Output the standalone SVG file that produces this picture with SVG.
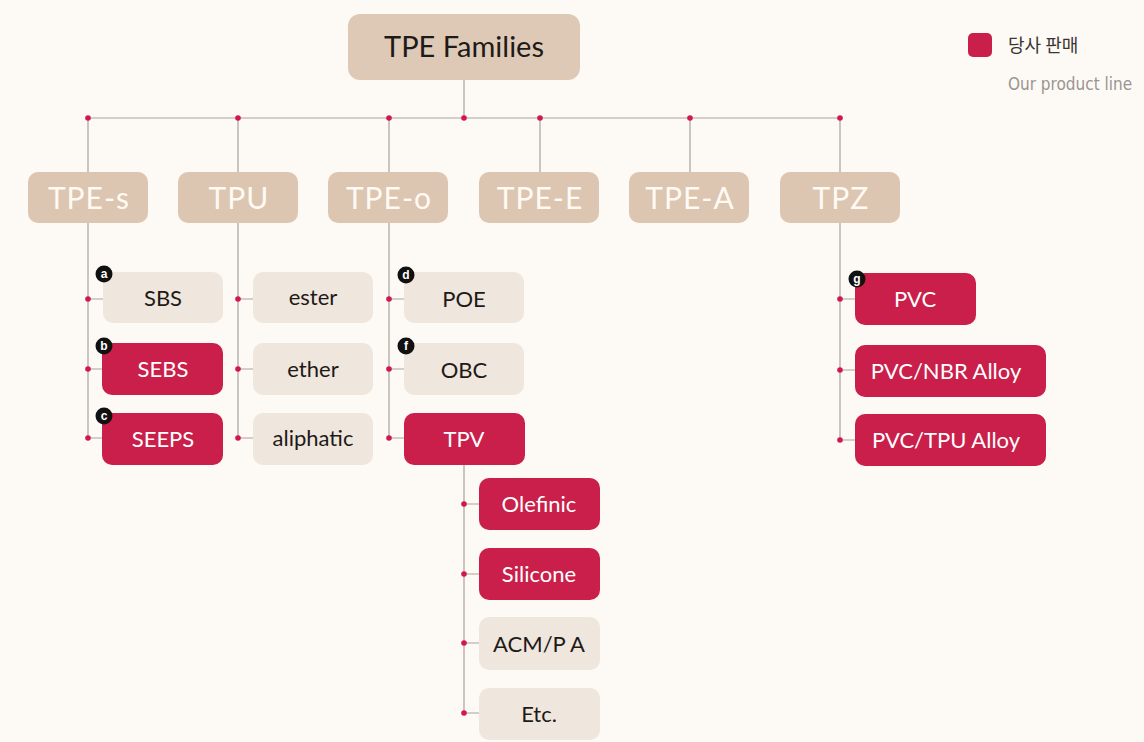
<svg xmlns="http://www.w3.org/2000/svg" width="1144" height="742" viewBox="0 0 1144 742">
<style>
.bg{fill:#fdfaf6}
.top{fill:#ddc9b6}
.l1{fill:#dcc6b1}
.beige{fill:#efe6dd}
.red{fill:#c91f4a}
.ln{stroke:#a9a19b;stroke-width:1.2;fill:none}
.dot{fill:#d3164b}
.t{font-family:Lato,"Open Sans","Liberation Sans",sans-serif;text-anchor:middle}
.tl1{font-size:30px;fill:#fffaf3;letter-spacing:1px}
.tc{font-size:22px}
.dk{fill:#1e1a18}
.wh{fill:#ffffff}
.badge{fill:#111}
.bt{font-family:"Liberation Sans",sans-serif;font-size:12px;font-weight:bold;fill:#fff;text-anchor:middle}
</style>
<rect class="bg" x="0" y="0" width="1144" height="742"/>
<g id="connectors">
<line class="ln" x1="464" y1="80" x2="464" y2="118"/>
<line class="ln" x1="88" y1="118" x2="840" y2="118"/>
<line class="ln" x1="88" y1="118" x2="88" y2="172"/>
<line class="ln" x1="238" y1="118" x2="238" y2="172"/>
<line class="ln" x1="389" y1="118" x2="389" y2="172"/>
<line class="ln" x1="540" y1="118" x2="540" y2="172"/>
<line class="ln" x1="690" y1="118" x2="690" y2="172"/>
<line class="ln" x1="840" y1="118" x2="840" y2="172"/>
<line class="ln" x1="88" y1="223" x2="88" y2="438"/>
<line class="ln" x1="238" y1="223" x2="238" y2="438"/>
<line class="ln" x1="389" y1="223" x2="389" y2="438"/>
<line class="ln" x1="840" y1="223" x2="840" y2="440"/>
<line class="ln" x1="464" y1="465" x2="464" y2="713"/>
<path class="ln" d="M88 299H103M88 369H103M88 438H103M238 299H253M238 369H253M238 438H253M389 299H404M389 369H404M389 438H404M840 299H855M840 370H855M840 440H855M464 504H479M464 574H479M464 643H479M464 713H479"/>
<g>
<circle class="dot" cx="88" cy="118" r="2.8"/><circle class="dot" cx="238" cy="118" r="2.8"/><circle class="dot" cx="389" cy="118" r="2.8"/><circle class="dot" cx="464" cy="118" r="2.8"/><circle class="dot" cx="540" cy="118" r="2.8"/><circle class="dot" cx="690" cy="118" r="2.8"/><circle class="dot" cx="840" cy="118" r="2.8"/>
<circle class="dot" cx="88" cy="299" r="2.8"/><circle class="dot" cx="88" cy="369" r="2.8"/><circle class="dot" cx="88" cy="438" r="2.8"/>
<circle class="dot" cx="238" cy="299" r="2.8"/><circle class="dot" cx="238" cy="369" r="2.8"/><circle class="dot" cx="238" cy="438" r="2.8"/>
<circle class="dot" cx="389" cy="299" r="2.8"/><circle class="dot" cx="389" cy="369" r="2.8"/><circle class="dot" cx="389" cy="438" r="2.8"/>
<circle class="dot" cx="840" cy="299" r="2.8"/><circle class="dot" cx="840" cy="370" r="2.8"/><circle class="dot" cx="840" cy="440" r="2.8"/>
<circle class="dot" cx="464" cy="504" r="2.8"/><circle class="dot" cx="464" cy="574" r="2.8"/><circle class="dot" cx="464" cy="643" r="2.8"/><circle class="dot" cx="464" cy="713" r="2.8"/>
</g>
</g>
<g id="root"><rect class="top" x="348" y="14" width="232" height="66" rx="12"/><text class="t dk" x="464" y="57" font-size="29">TPE Families</text></g>
<g id="tpe-s"><rect class="l1" x="28" y="172" width="120" height="51" rx="10"/><text class="t tl1" x="89" y="209">TPE-s</text></g>
<g id="tpu"><rect class="l1" x="178" y="172" width="120" height="51" rx="10"/><text class="t tl1" x="239" y="209">TPU</text></g>
<g id="tpe-o"><rect class="l1" x="328" y="172" width="120" height="51" rx="10"/><text class="t tl1" x="389" y="209">TPE-o</text></g>
<g id="tpe-e"><rect class="l1" x="479" y="172" width="120" height="51" rx="10"/><text class="t tl1" x="540" y="209">TPE-E</text></g>
<g id="tpe-a"><rect class="l1" x="629" y="172" width="120" height="51" rx="10"/><text class="t tl1" x="690" y="209">TPE-A</text></g>
<g id="tpz"><rect class="l1" x="780" y="172" width="120" height="51" rx="10"/><text class="t tl1" x="841" y="209">TPZ</text></g>
<g id="sbs"><rect class="beige" x="103" y="272" width="120" height="51" rx="10"/><text class="t tc dk" x="163" y="306">SBS</text><circle class="badge" cx="104" cy="274" r="8.5"/><text class="bt" x="104" y="278">a</text></g>
<g id="sebs"><rect class="red" x="102" y="343" width="121" height="52" rx="10"/><text class="t tc wh" x="163" y="377">SEBS</text><circle class="badge" cx="104" cy="346" r="8.5"/><text class="bt" x="104" y="350">b</text></g>
<g id="seeps"><rect class="red" x="102" y="413" width="121" height="52" rx="10"/><text class="t tc wh" x="163" y="447">SEEPS</text><circle class="badge" cx="104" cy="416" r="8.5"/><text class="bt" x="104" y="420">c</text></g>
<g id="ester"><rect class="beige" x="253" y="272" width="120" height="51" rx="10"/><text class="t tc dk" x="313" y="305">ester</text></g>
<g id="ether"><rect class="beige" x="253" y="343" width="120" height="52" rx="10"/><text class="t tc dk" x="313" y="377">ether</text></g>
<g id="aliphatic"><rect class="beige" x="253" y="413" width="120" height="52" rx="10"/><text class="t tc dk" x="313" y="446">aliphatic</text></g>
<g id="poe"><rect class="beige" x="404" y="272" width="120" height="51" rx="10"/><text class="t tc dk" x="464" y="307">POE</text><circle class="badge" cx="406" cy="275" r="8.5"/><text class="bt" x="406" y="279">d</text></g>
<g id="obc"><rect class="beige" x="404" y="343" width="120" height="52" rx="10"/><text class="t tc dk" x="464" y="378">OBC</text><circle class="badge" cx="406" cy="346" r="8.5"/><text class="bt" x="406" y="350">f</text></g>
<g id="tpv"><rect class="red" x="404" y="413" width="121" height="52" rx="10"/><text class="t tc wh" x="464" y="447">TPV</text></g>
<g id="olefinic"><rect class="red" x="479" y="478" width="121" height="52" rx="10"/><text class="t tc wh" x="539" y="512">Olefinic</text></g>
<g id="silicone"><rect class="red" x="479" y="548" width="121" height="52" rx="10"/><text class="t tc wh" x="539" y="582">Silicone</text></g>
<g id="acmpa"><rect class="beige" x="479" y="617" width="121" height="53" rx="10"/><text class="t tc dk" x="539" y="652">ACM/P A</text></g>
<g id="etc"><rect class="beige" x="479" y="688" width="121" height="52" rx="10"/><text class="t tc dk" x="539" y="722">Etc.</text></g>
<g id="pvc"><rect class="red" x="855" y="273" width="121" height="52" rx="10"/><text class="t tc wh" x="915" y="307">PVC</text><circle class="badge" cx="857" cy="279" r="8.5"/><text class="bt" x="857" y="283">g</text></g>
<g id="pvc-nbr"><rect class="red" x="855" y="345" width="191" height="52" rx="10"/><text class="t tc wh" x="946" y="379">PVC/NBR Alloy</text></g>
<g id="pvc-tpu"><rect class="red" x="855" y="414" width="191" height="52" rx="10"/><text class="t tc wh" x="946" y="448">PVC/TPU Alloy</text></g>
<g id="legend"><rect class="red" x="968" y="33" width="24" height="24" rx="5"/><text x="1008" y="52" font-family="'Noto Sans CJK KR',sans-serif" font-size="18" fill="#3a3533">당사 판매</text><text x="1008" y="90" font-family="'Liberation Sans Narrow','DejaVu Sans Condensed',sans-serif" font-size="17" fill="#9a9490">Our product line</text></g>
</svg>
